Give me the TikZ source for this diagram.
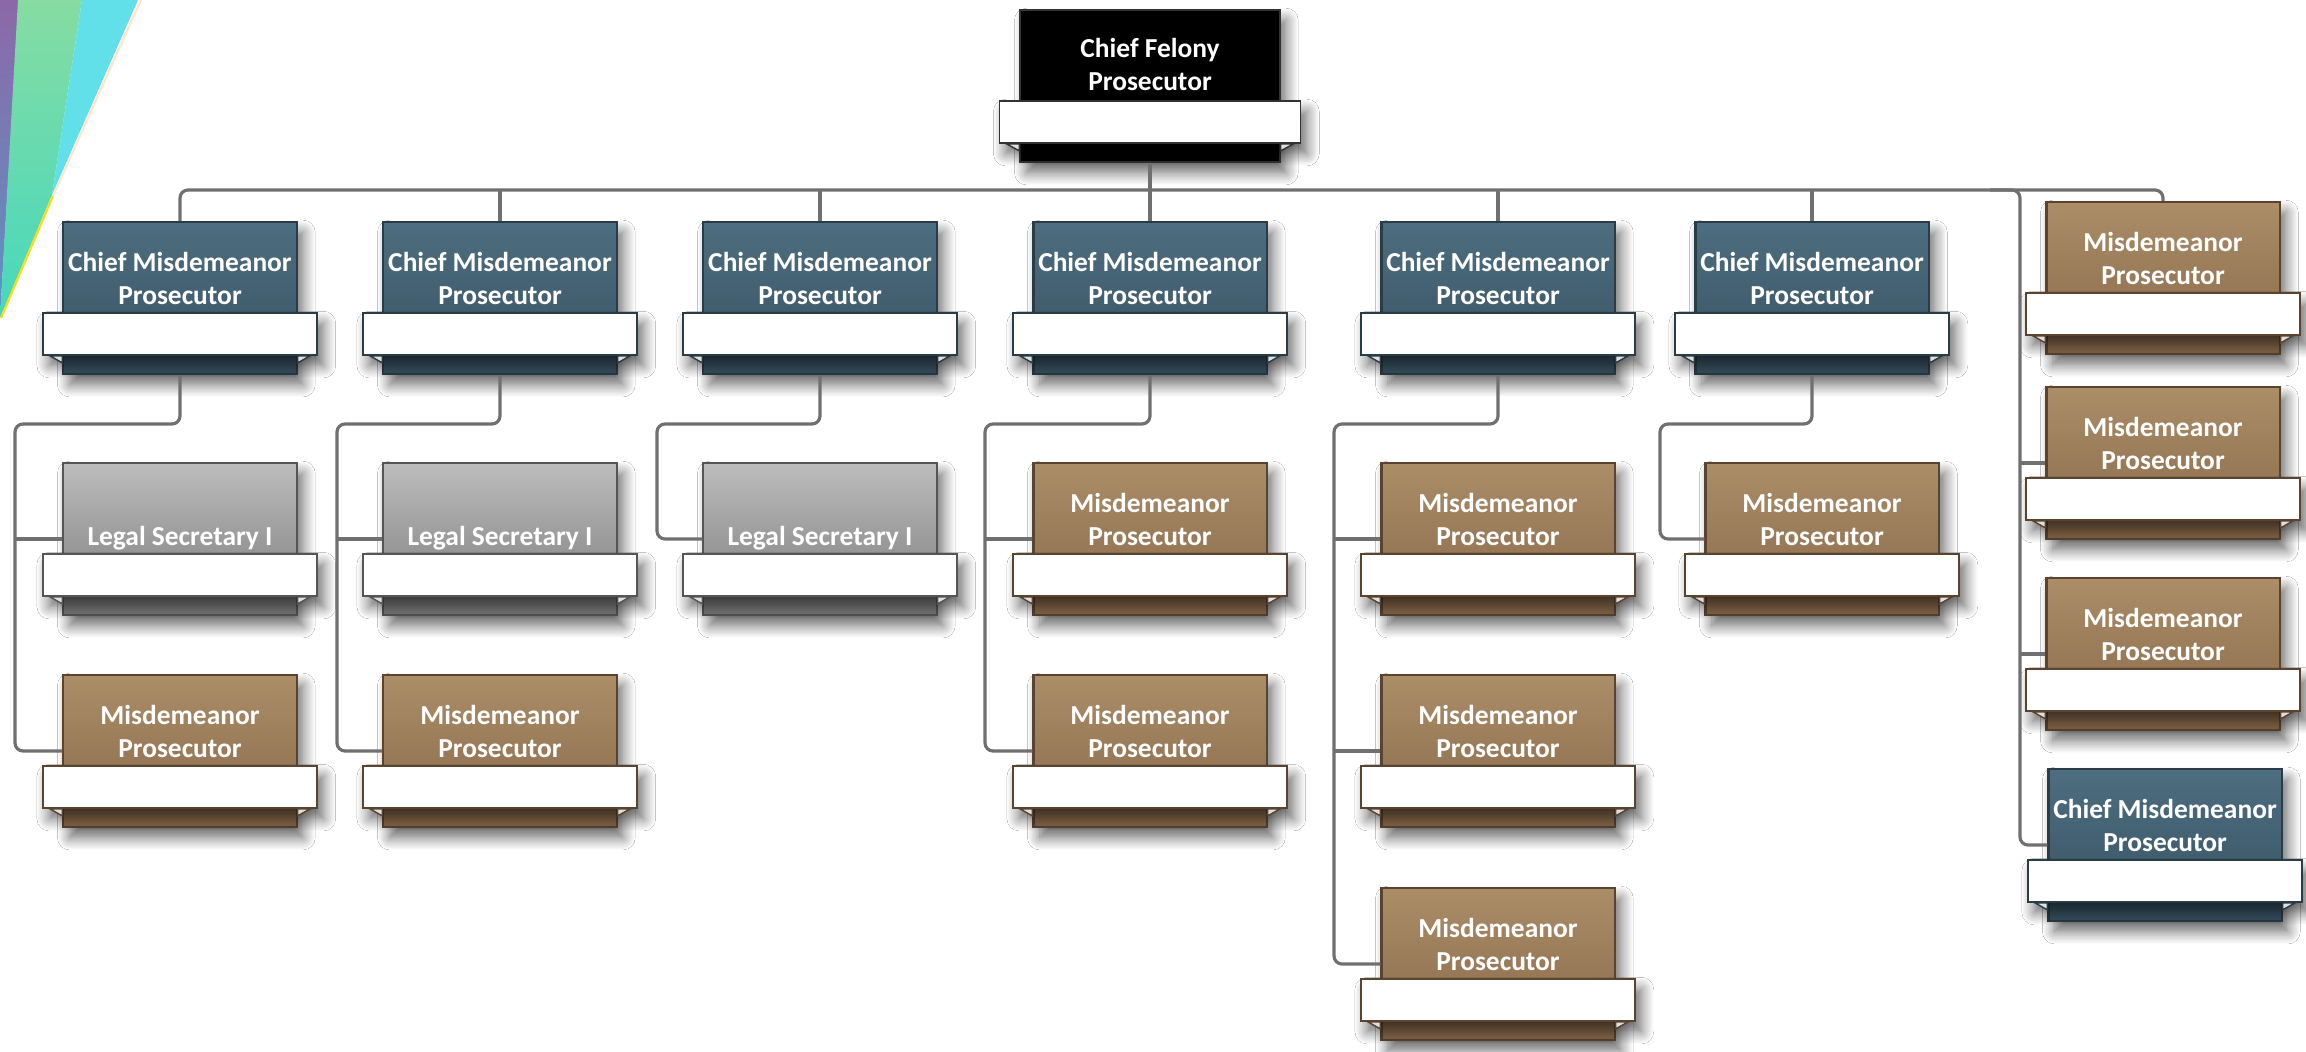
\documentclass[tikz,border=0pt]{standalone}
\usepackage{fontspec}
\setmainfont{Carlito}
\usetikzlibrary{shadows.blur}

\definecolor{chieftop}{HTML}{4D6E80}
\definecolor{chiefbot}{HTML}{385262}
\definecolor{chiefline}{HTML}{2A3C46}
\definecolor{misdtop}{HTML}{AB8D68}
\definecolor{misdbot}{HTML}{89694A}
\definecolor{misdline}{HTML}{5A4430}
\definecolor{legaltop}{HTML}{BDBDBD}
\definecolor{legalbot}{HTML}{7A7A7A}
\definecolor{legalline}{HTML}{555555}
\definecolor{felonyline}{HTML}{333333}
\definecolor{linkgray}{HTML}{707070}
\definecolor{stripepurple}{HTML}{8C68A8}
\definecolor{stripeblue}{HTML}{5E93C4}
\definecolor{stripemint}{HTML}{86DCA2}
\definecolor{stripeteal}{HTML}{45D8BE}
\definecolor{stripecyan}{HTML}{62E0EA}

\tikzset{
  softshadow/.style={blur shadow={shadow xshift=1.8pt, shadow yshift=-3pt,
      shadow blur radius=3.5pt, shadow blur steps=12, shadow opacity=60}},
  posbase/.style={minimum width=2.33cm, minimum height=1.52cm, inner sep=0pt,
      line width=0.6pt, softshadow},
  chiefbox/.style={posbase, draw=chiefline, top color=chieftop, bottom color=chiefbot},
  misdbox/.style={posbase, draw=misdline, top color=misdtop, bottom color=misdbot},
  legalbox/.style={posbase, draw=legalline, top color=legaltop, bottom color=legalbot},
  felonybox/.style={posbase, draw=felonyline, fill=black, minimum width=2.59cm},
  band/.style={draw=#1, fill=white, line width=0.5pt, inner sep=0pt,
      minimum width=2.74cm, minimum height=0.42cm, softshadow},
  curl/.style={draw=#1, fill=white!75!gray, line width=0.4pt},
  postext/.style={anchor=south, inner sep=0pt, text depth=0pt, align=center,
      text=white, font=\bfseries\fontsize{7.8}{9.4}\selectfont},
  link/.style={draw=linkgray, line width=0.9pt, rounded corners=0.08cm},
}

% box, ribbon band and title of one position
\newcommand{\posbox}[5]{%
  \node[#2box] (#1) at (#3,#4) {};
  \node[band=#2line] (#1band) at ([yshift=-0.36cm]#1.center) {};
  \draw[curl=#2line] ([xshift=0.08cm]#1band.south west) -- (#1band.south west -| #1.west) -- ++(0,7) -- cycle;
  \draw[curl=#2line] ([xshift=-0.08cm]#1band.south east) -- (#1band.south east -| #1.east) -- ++(0,7) -- cycle;
  \node[postext] at ([yshift=-0.07cm]#1.center) {#5};
}

\begin{document}
\begin{tikzpicture}[x=0.01cm, y=-0.01cm]
\useasboundingbox (0,0) rectangle (2306,1052);
\fill[white] (0,0) rectangle (2306,1052);

% corner stripes
\shade[top color=stripepurple, bottom color=stripeblue] (0,0) -- (19,0) -- (0,318) -- cycle;
\shade[top color=stripemint, bottom color=stripeteal] (18,0) -- (82,0) -- (52,195) -- (0,318) -- cycle;
\fill[stripecyan] (82,0) -- (138,0) -- (52,195) -- cycle;
\draw[orange!20!white, line width=0.6pt] (141,0) -- (53,196);
\draw[yellow!80!orange, line width=0.6pt] (53,196) -- (1,318);

% positions
\node[felonybox] (top) at (1150,86) {};
\node[band=felonyline, minimum width=3.01cm] (topband) at ([yshift=-0.36cm]top.center) {};
\draw[curl=felonyline] ([xshift=0.08cm]topband.south west) -- (topband.south west -| top.west) -- ++(0,7) -- cycle;
\draw[curl=felonyline] ([xshift=-0.08cm]topband.south east) -- (topband.south east -| top.east) -- ++(0,7) -- cycle;
\node[postext] at ([yshift=-0.05cm]top.center) {Chief Felony\\Prosecutor};

\posbox{c1}{chief}{180}{298}{Chief Misdemeanor\\Prosecutor}
\posbox{c2}{chief}{500}{298}{Chief Misdemeanor\\Prosecutor}
\posbox{c3}{chief}{820}{298}{Chief Misdemeanor\\Prosecutor}
\posbox{c4}{chief}{1150}{298}{Chief Misdemeanor\\Prosecutor}
\posbox{c5}{chief}{1498}{298}{Chief Misdemeanor\\Prosecutor}
\posbox{c6}{chief}{1812}{298}{Chief Misdemeanor\\Prosecutor}

\posbox{c1a}{legal}{180}{539}{Legal Secretary I}
\posbox{c1b}{misd}{180}{751}{Misdemeanor\\Prosecutor}
\posbox{c2a}{legal}{500}{539}{Legal Secretary I}
\posbox{c2b}{misd}{500}{751}{Misdemeanor\\Prosecutor}
\posbox{c3a}{legal}{820}{539}{Legal Secretary I}
\posbox{c4a}{misd}{1150}{539}{Misdemeanor\\Prosecutor}
\posbox{c4b}{misd}{1150}{751}{Misdemeanor\\Prosecutor}
\posbox{c5a}{misd}{1498}{539}{Misdemeanor\\Prosecutor}
\posbox{c5b}{misd}{1498}{751}{Misdemeanor\\Prosecutor}
\posbox{c5c}{misd}{1498}{964}{Misdemeanor\\Prosecutor}
\posbox{c6a}{misd}{1822}{539}{Misdemeanor\\Prosecutor}

\posbox{r1}{misd}{2163}{278}{Misdemeanor\\Prosecutor}
\posbox{r2}{misd}{2163}{463}{Misdemeanor\\Prosecutor}
\posbox{r3}{misd}{2163}{654}{Misdemeanor\\Prosecutor}
\posbox{r4}{chief}{2165}{845}{Chief Misdemeanor\\Prosecutor}

% connectors
\coordinate (rs0) at (1990,190);
\coordinate (rs) at (2020,190);
\draw[link] (c1.north) |- (rs) -| (r1.north);
\draw[link] (top.south) -- (top.south |- rs);
\foreach \n in {c2,c3,c4,c5,c6}
  \draw[link] (\n.north) -- (\n.north |- rs);
\draw[link] (rs0) -- (rs) |- (r4.west);
\foreach \n in {r2,r3}
  \draw[link] (rs |- \n.west) -- (\n.west);

\coordinate (s1) at (15,424);
\coordinate (s2) at (337,424);
\coordinate (s3) at (657,424);
\coordinate (s4) at (985,424);
\coordinate (s5) at (1334,424);
\coordinate (s6) at (1660,424);
\draw[link] (c1.south) |- (s1) |- (c1b.west);
\draw[link] (s1 |- c1a.west) -- (c1a.west);
\draw[link] (c2.south) |- (s2) |- (c2b.west);
\draw[link] (s2 |- c2a.west) -- (c2a.west);
\draw[link] (c3.south) |- (s3) |- (c3a.west);
\draw[link] (c4.south) |- (s4) |- (c4b.west);
\draw[link] (s4 |- c4a.west) -- (c4a.west);
\draw[link] (c5.south) |- (s5) |- (c5c.west);
\foreach \n in {c5a,c5b}
  \draw[link] (s5 |- \n.west) -- (\n.west);
\draw[link] (c6.south) |- (s6) |- (c6a.west);
\end{tikzpicture}
\end{document}
